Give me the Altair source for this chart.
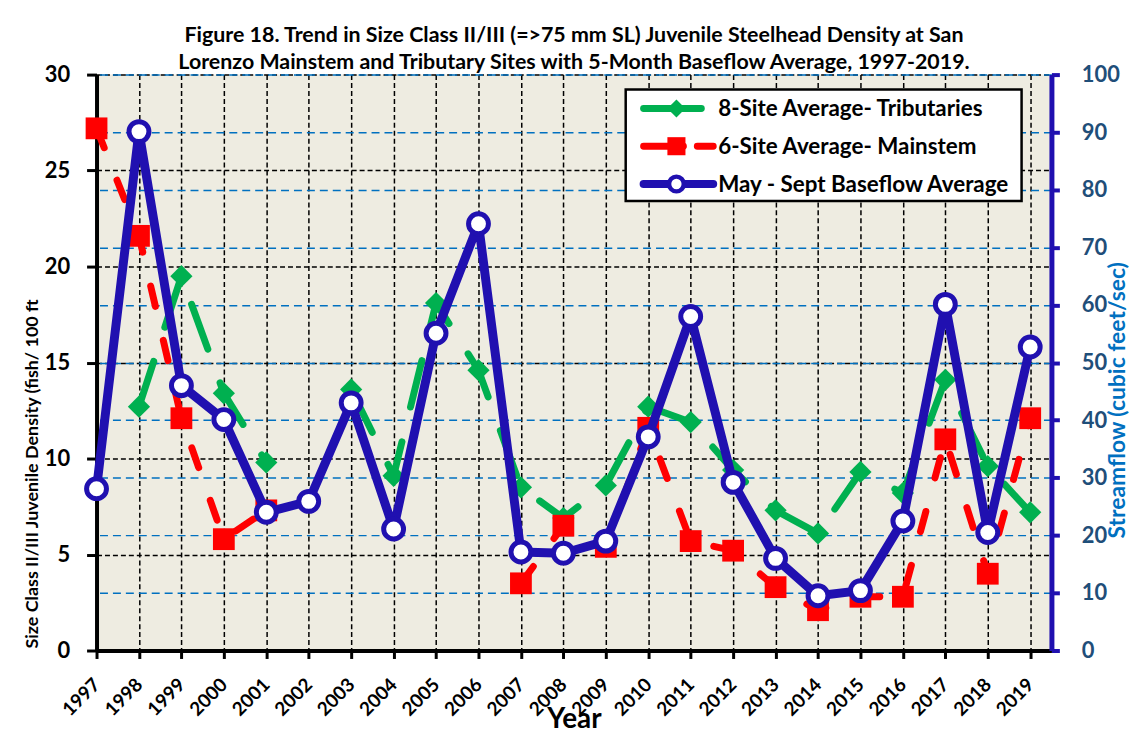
import altair as alt
import pandas as pd

# ---------------- data ----------------
years = list(range(1997, 2020))
tributaries = [None, 12.7, 19.5, 13.4, 9.8, None, 13.6, 9.1, 18.1, 14.6, 8.5, 6.9,
               8.6, 12.7, 11.9, 9.4, 7.3, 6.1, 9.3, 8.2, 14.1, 9.6, 7.2]
mainstem = [27.2, 21.6, 12.1, 5.8, 7.3, None, None, None, None, None, 3.5, 6.5,
            5.4, 11.6, 5.7, 5.2, 3.3, 2.1, 2.8, 2.8, 11.0, 4.0, 12.1]
baseflow = [28.1, 90.1, 46.0, 40.1, 24.0, 25.9, 43.0, 21.1, 55.1, 74.1, 17.1, 16.9,
            19.0, 37.1, 58.0, 29.2, 16.0, 9.5, 10.4, 22.5, 60.1, 20.5, 52.7]

series_names = ["8-Site Average- Tributaries",
                "6-Site Average- Mainstem",
                "May - Sept Baseflow Average"]
title_lines = ["Figure 18. Trend in Size Class II/III (=>75 mm SL) Juvenile Steelhead Density at San",
               "Lorenzo Mainstem and Tributary Sites with 5-Month Baseflow Average, 1997-2019."]
left_ticks = [0, 5, 10, 15, 20, 25, 30]
right_ticks = [0, 10, 20, 30, 40, 50, 60, 70, 80, 90, 100]
x_title = "Year"
left_title = "Size Class II/III  Juvenile Density (fish/ 100 ft"
right_title = "Streamflow (cubic feet/sec)"

GREEN = "#00B050"
RED = "#FF0000"
BLUE = "#2010B0"
FONT = "Lato"

# plot-area geometry (pixels)
W, H = 960, 579
PAD = {"left": 89, "top": 65, "right": 80, "bottom": 85}
OX, OY = 8 + PAD["left"], 8 + PAD["top"]   # absolute page position of plot origin


def long_df(vals):
    rows, seg, prev_none = [], 0, True
    for yr, v in zip(years, vals):
        if v is None:
            prev_none = True
            continue
        if prev_none:
            seg += 1
        prev_none = False
        rows.append({"year": yr, "value": v, "seg": seg})
    return pd.DataFrame(rows)


trib_df = long_df(tributaries)
main_df = long_df(mainstem)
flow_df = long_df(baseflow)

x_enc = alt.X(
    "year:Q",
    scale=alt.Scale(domain=[1997, 2019.5], nice=False, zero=False),
    axis=alt.Axis(
        values=years, format="d", title=x_title, labelAngle=-45,
        labelAlign="right", labelBaseline="middle", labelPadding=23,
        labelFontSize=19, labelFont=FONT, labelFontWeight="bold", labelColor="black",
        labelOverlap=False, labelFlush=False,
        tickSize=8, tickWidth=3, tickColor="black",
        domainColor="black", domainWidth=4,
        grid=True, gridColor="black", gridDash=[5, 3], gridWidth=1.5,
        titleFont=FONT, titleFontSize=28, titleFontWeight="bold", titleColor="black",
        titleY=55, titleBaseline="top",
    ),
)

y_left = alt.Y(
    "value:Q",
    scale=alt.Scale(domain=[0, 30], nice=False),
    axis=alt.Axis(
        orient="left", values=left_ticks, title=left_title,
        labelFont=FONT, labelFontWeight="bold", labelFontSize=22, labelColor="black",
        labelPadding=17, tickSize=10, tickWidth=3, tickColor="black",
        domainColor="black", domainWidth=4,
        grid=True, gridColor="black", gridDash=[5, 3], gridWidth=1.5,
        titleFont=FONT, titleFontSize=18, titleFontWeight="bold", titleColor="black",
        titleAngle=270, titleX=-64, titleY=401, titleAlign="center", titleBaseline="middle",
    ),
)

y_right = alt.Y(
    "value:Q",
    scale=alt.Scale(domain=[0, 100], nice=False),
    axis=alt.Axis(
        orient="right", values=right_ticks, title=right_title,
        labelFont=FONT, labelFontWeight="bold", labelFontSize=22, labelColor="#1F4E79",
        labelPadding=22, tickSize=8, tickWidth=4, tickColor=BLUE,
        domainColor=BLUE, domainWidth=5,
        grid=True, gridColor="#0070C0", gridDash=[8, 5], gridWidth=1.5,
        titleFont=FONT, titleFontSize=23, titleFontWeight="bold", titleColor="#0070C0",
        titleAngle=270, titleX=66, titleY=327, titleAlign="center", titleBaseline="middle",
    ),
)

trib_line = alt.Chart(trib_df).mark_line(
    color=GREEN, strokeWidth=7, strokeDash=[48, 36], strokeCap="round"
).encode(x=x_enc, y=y_left, detail="seg:N")
trib_pts = alt.Chart(trib_df).mark_point(
    shape="diamond", filled=True, color=GREEN, size=500, opacity=1
).encode(x=x_enc, y=y_left)

main_line = alt.Chart(main_df).mark_line(
    color=RED, strokeWidth=7, strokeDash=[21, 35], strokeCap="round"
).encode(x=x_enc, y=y_left, detail="seg:N")
main_pts = alt.Chart(main_df).mark_point(
    shape="square", filled=True, color=RED, size=480, opacity=1
).encode(x=x_enc, y=y_left)

flow_line = alt.Chart(flow_df).mark_line(
    color=BLUE, strokeWidth=9, strokeJoin="round"
).encode(x=x_enc, y=y_right, detail="seg:N")
flow_pts = alt.Chart(flow_df).mark_point(
    shape="circle", fill="white", stroke=BLUE, strokeWidth=5, size=400,
    opacity=1, fillOpacity=1, strokeOpacity=1
).encode(x=x_enc, y=y_right)

# ---------------- legend (drawn manually) ----------------
one = pd.DataFrame({"k": [0]})
legend_box = alt.Chart(one).mark_rect(fill="white", stroke="black", strokeWidth=2.5).encode(
    x=alt.value(629 - OX), x2=alt.value(1027 - OX),
    y=alt.value(88 - OY), y2=alt.value(200 - OY),
)
leg_rows_y = [107, 145, 183]
leg_layers = [legend_box]
styles = [
    dict(color=GREEN, x2=705, dash=None, shape="diamond", size=330),
    dict(color=RED, x2=717, dash=[40, 14], shape="square", size=330),
    dict(color=BLUE, x2=717, dash=None, shape="circle", size=220),
]
for name, yy, st in zip(series_names, leg_rows_y, styles):
    rule_kw = dict(color=st["color"], strokeWidth=8 if st["color"] == BLUE else 7, strokeCap="round")
    if st["dash"]:
        rule_kw["strokeDash"] = st["dash"]
    leg_layers.append(
        alt.Chart(one).mark_rule(**rule_kw).encode(
            x=alt.value(647 - OX), x2=alt.value(st["x2"] - OX), y=alt.value(yy - OY)
        )
    )
    if st["shape"] == "circle":
        pt = alt.Chart(one).mark_point(shape="circle", fill="white", stroke=BLUE, strokeWidth=4.5,
                                       size=st["size"], opacity=1, fillOpacity=1)
    else:
        pt = alt.Chart(one).mark_point(shape=st["shape"], filled=True, color=st["color"],
                                       size=st["size"], opacity=1)
    leg_layers.append(pt.encode(x=alt.value(680 - OX), y=alt.value(yy - OY)))
    leg_layers.append(
        alt.Chart(pd.DataFrame({"label": [name]})).mark_text(
            align="left", baseline="middle", font=FONT, fontWeight="bold", fontSize=22.5, color="black"
        ).encode(x=alt.value(722 - OX), y=alt.value(yy - OY + 1), text="label:N")
    )

chart = alt.layer(
    alt.layer(trib_line, trib_pts, main_line, main_pts),
    alt.layer(flow_line, flow_pts),
    *leg_layers,
).resolve_scale(y="independent").properties(
    width=W, height=H,
    padding=PAD,
    autosize=alt.AutoSizeParams(type="none"),
    title=alt.TitleParams(
        title_lines, font=FONT, fontSize=21.5, fontWeight="bold", color="black",
        anchor="middle", offset=-10, lineHeight=27,
    ),
).configure(background="white").configure_view(fill="#EEECE1", stroke=None)

chart.save("out.html", embed_options={"renderer": "svg", "actions": False})
